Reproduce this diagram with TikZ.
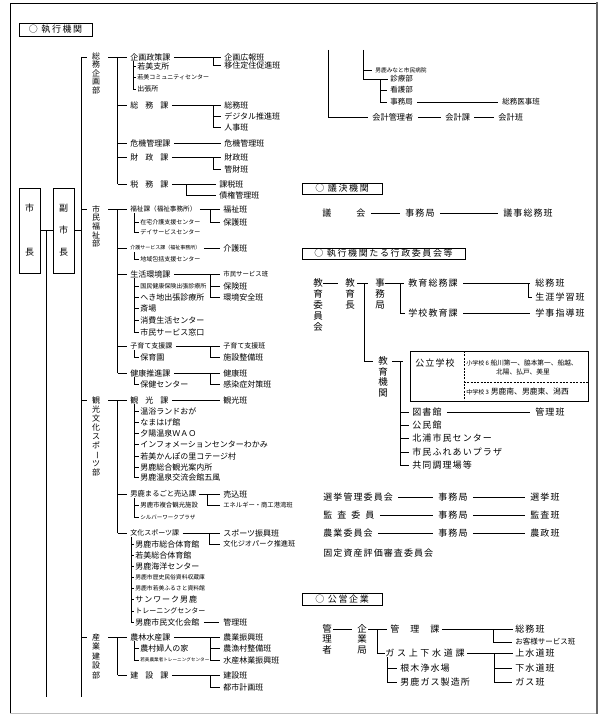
\documentclass[tikz,border=0pt]{standalone}
\usepackage{graphicx}
\usepackage{fontspec}
\setmainfont{Noto Sans CJK JP}
\newfontfamily\jpH[LetterSpace=18]{Noto Sans CJK JP}
\newfontfamily\jpW[LetterSpace=30]{Noto Sans CJK JP}
\newfontfamily\jpR[LetterSpace=12]{Noto Sans CJK JP}
\newcommand\fz[2]{\fontsize{#1}{#2}\selectfont}
\newcommand\vln[3]{\draw (#2.west -| #1,0) -- (#3.west -| #1,0);}
\newcommand\stb[2]{\draw (#2.west -| #1,0) -- ([xshift=-3pt]#2.west);}
\newcommand\subst[2]{\draw (#2.west -| #1,0) -- ([xshift=-1.3pt]#2.west);}
\newcommand\hln[2]{\draw ([xshift=3pt]#1.east) -- ([xshift=-3pt]#2.west);}
\newcommand\hlng[3]{\draw ([xshift=#3]#1.east) -- ([xshift=-#3]#2.west);}
\newcommand\vbar{\rotatebox[origin=c]{-90}{ー}}
\begin{document}
\begin{tikzpicture}[x=1pt,y=-1pt,line width=0.75pt,
  t/.style={anchor=west,inner sep=0pt,font=\fz{8}{9}},
  tm/.style={t,font=\fz{7}{8}},
  ts/.style={t,font=\fz{6}{7}},
  tt/.style={t,font=\fz{5}{6}},
  tr/.style={t,font=\jpR\fz{9}{10}},
  vt/.style={anchor=north,inner sep=0pt,align=center},
  hbox/.style={draw,inner sep=0pt,font=\jpH\fz{9}{10}},
  bigbox/.style={draw,inner sep=0pt,minimum width=21pt,minimum height=85pt,align=center},
]
\useasboundingbox (0,0) rectangle (600,717);
% frame
\draw (597,3) -- (10,3) -- (10,713);
\draw[line width=0.8pt,black!25] (10,713) -- (597,713);
\draw[line width=2.5pt,black!60] (597,2) -- (597,714);

% headers
\node[hbox,minimum width=73pt,minimum height=13pt] (h1) at (55.5,29.5) {○ 執行機関};
\node[hbox,minimum width=80pt,minimum height=11pt] (h2) at (342,188.5) {○ 議決機関};
\node[hbox,minimum width=163pt,minimum height=11pt] (h3) at (383.5,253.5) {○ 執行機関たる行政委員会等};
\node[hbox,minimum width=80pt,minimum height=12pt] (h4) at (342,599) {○ 公営企業};

% mayor boxes
\node[bigbox,font=\fz{9}{22}] (mayor) at (29.5,230.5) {市\\[22pt]長};
\node[bigbox,font=\fz{9}{22}] (vmayor) at (63.5,230.5) {副\\市\\長};
\draw (mayor.east) -- (vmayor.west);
\draw (mayor.east -| 46,0) -- (46,697);
\draw (vmayor.east) -- (vmayor.east -| 81,0);
\draw (81,57) -- (81,697);

% ===== 総務企画部
\node[vt,font=\fz{8}{8.5}] (bu1) at (96,52) {総\\務\\企\\画\\部};
\node[t] (kikaku) at (130,57) {企画政策課};
\node[t] (kouhou) at (224,57) {企画広報班};
\node[t] (ijuu) at (224,65.5) {移住定住促進班};
\node[t] (wshisho) at (137,66) {若美支所};
\node[ts] (wcom) at (137,77.5) {若美コミュニティセンター};
\node[tm] (shutcho) at (137,89) {出張所};
\node[t] (soumu) at (130,105) {総\hspace{7pt}務\hspace{7pt}課};
\node[t] (soumuh) at (224,105) {総務班};
\node[t] (digital) at (224,116) {デジタル推進班};
\node[t] (jinji) at (224,127) {人事班};
\node[t] (kiki) at (130,143) {危機管理課};
\node[t] (kikih) at (224,143) {危機管理班};
\node[t] (zaisei) at (130,157) {財\hspace{7pt}政\hspace{7pt}課};
\node[t] (zaiseih) at (224,157) {財政班};
\node[t] (kanzai) at (224,169) {管財班};
\node[t] (zeimu) at (130,184) {税\hspace{7pt}務\hspace{7pt}課};
\node[t] (kazei) at (219,184) {課税班};
\node[t] (saiken) at (219,195) {債権管理班};

\draw (kikaku.west -| 81,0) -- (kikaku.west -| 87,0);
\draw (kikaku.west -| 108,0) -- ([xshift=-3.5pt]kikaku.west);
\vln{117.5}{kikaku}{zeimu}
\stb{117.5}{soumu} \stb{117.5}{kiki} \stb{117.5}{zaisei} \stb{117.5}{zeimu}
\hln{kikaku}{kouhou} \vln{213}{kouhou}{ijuu} \stb{213}{ijuu}
\draw (kikaku.west -| 133,0) ++(0,4) -- (shutcho.west -| 133,0);
\subst{133}{wshisho} \subst{133}{wcom} \subst{133}{shutcho}
\hln{soumu}{soumuh} \vln{213}{soumuh}{jinji} \stb{213}{digital} \stb{213}{jinji}
\hln{kiki}{kikih}
\hln{zaisei}{zaiseih} \vln{213}{zaiseih}{kanzai} \stb{213}{kanzai}
\hln{zeimu}{kazei} \vln{186}{kazei}{saiken} \stb{186}{saiken}

% ===== 市民福祉部
\node[vt,font=\fz{8}{8.7}] (bu2) at (96,205) {市\\民\\福\\祉\\部};
\node[t,font=\fz{6.6}{7}] (fukushi) at (130,209) {福祉課（福祉事務所）};
\node[t] (fukushih) at (223,209) {福祉班};
\node[t] (hogo) at (223,222) {保護班};
\node[ts] (zaitaku) at (140,222) {在宅介護支援センター};
\node[ts] (day) at (140,232) {デイサービスセンター};
\node[tt] (kaigo) at (130,248) {介護サービス課（福祉事務所）};
\node[t] (kaigoh) at (223,248) {介護班};
\node[ts] (chiiki) at (140,259) {地域包括支援センター};
\node[t] (seikatsu) at (130,274) {生活環境課};
\node[t,font=\fz{6.4}{7}] (shiminh) at (223,274) {市民サービス班};
\node[t] (hoken) at (223,286) {保険班};
\node[t] (kankyo) at (223,297) {環境安全班};
\node[ts] (kokuho) at (140,286) {国民健康保険出張診療所};
\node[t] (hekichi) at (140,297) {へき地出張診療所};
\node[t] (saijo) at (140,308) {斎場};
\node[t] (shohi) at (140,320) {消費生活センター};
\node[t] (madoguchi) at (140,332) {市民サービス窓口};
\node[tm] (kosodate) at (130,346) {子育て支援課};
\node[tm] (kosodateh) at (223,346) {子育て支援班};
\node[t] (shisetsu) at (223,357) {施設整備班};
\node[t] (hoikuen) at (140,357) {保育園};
\node[t] (kenkou) at (130,373) {健康推進課};
\node[t] (kenkouh) at (223,373) {健康班};
\node[t] (kansen) at (223,384) {感染症対策班};
\node[t] (hokenc) at (140,384) {保健センター};

\draw (fukushi.west -| 81,0) -- (fukushi.west -| 87,0);
\draw (fukushi.west -| 108,0) -- ([xshift=-3.5pt]fukushi.west);
\vln{117.5}{fukushi}{kenkou}
\stb{117.5}{kaigo} \stb{117.5}{seikatsu} \stb{117.5}{kosodate} \stb{117.5}{kenkou}
\hln{fukushi}{fukushih} \vln{210}{fukushih}{hogo} \stb{210}{hogo}
\draw (fukushi.west -| 134,0) ++(0,4) -- (day.west -| 134,0);
\subst{134}{zaitaku} \subst{134}{day}
\hln{kaigo}{kaigoh}
\draw (kaigo.west -| 134,0) ++(0,4) -- (chiiki.west -| 134,0); \subst{134}{chiiki}
\hln{seikatsu}{shiminh} \vln{210}{shiminh}{kankyo} \stb{210}{hoken} \stb{210}{kankyo}
\draw (seikatsu.west -| 134,0) ++(0,4) -- (madoguchi.west -| 134,0);
\subst{134}{kokuho} \subst{134}{hekichi} \subst{134}{saijo} \subst{134}{shohi} \subst{134}{madoguchi}
\hln{kosodate}{kosodateh} \vln{210}{kosodateh}{shisetsu} \stb{210}{shisetsu}
\draw (kosodate.west -| 134,0) ++(0,4) -- (hoikuen.west -| 134,0); \subst{134}{hoikuen}
\hln{kenkou}{kenkouh} \vln{210}{kenkouh}{kansen} \stb{210}{kansen}
\draw (kenkou.west -| 134,0) ++(0,4) -- (hokenc.west -| 134,0); \subst{134}{hokenc}

% ===== 観光文化スポーツ部
\node[vt,font=\fz{8}{9}] (bu3) at (96,396) {観\\光\\文\\化\\ス\\ポ\\\vbar\\ツ\\部};
\node[t] (kankou) at (130,400) {観\hspace{7pt}光\hspace{7pt}課};
\node[t] (kankouh) at (223,400) {観光班};
\node[t] (onyoku) at (140,411) {温浴ランドおが};
\node[t] (namahage) at (140,422) {なまはげ館};
\node[t] (wao) at (140,433) {夕陽温泉ＷＡＯ};
\node[t] (info) at (140,444) {インフォメーションセンターわかみ};
\node[t] (kanpo) at (140,456) {若美かんぽの里コテージ村};
\node[t] (annai) at (140,467) {男鹿総合観光案内所};
\node[t] (gofu) at (140,477) {男鹿温泉交流会館五風};
\node[t,font=\fz{7.3}{8}] (marugoto) at (130,494) {男鹿まるごと売込課};
\node[t] (urikomi) at (223,494) {売込班};
\node[t,font=\fz{6.3}{7}] (energy) at (223,505) {エネルギー・商工港湾班};
\node[t,font=\fz{6.4}{7}] (fukugo) at (140,505) {男鹿市複合観光施設};
\node[t,font=\fz{5.5}{6}] (silver) at (140,517) {シルバーワークプラザ};
\node[t,font=\fz{7}{8}] (bunka) at (130,533) {文化スポーツ課};
\node[t] (sports) at (223,533) {スポーツ振興班};
\node[t,font=\fz{7.2}{8}] (geo) at (223,544) {文化ジオパーク推進班};
\node[t] (sougou) at (135,544) {男鹿市総合体育館};
\node[t] (wsougou) at (135,555) {若美総合体育館};
\node[t] (kaiyou) at (135,566) {男鹿海洋センター};
\node[t,font=\fz{5.8}{6}] (rekishi) at (135,577) {男鹿市歴史民俗資料収蔵庫};
\node[t,font=\fz{5.8}{6}] (furusato) at (135,588) {男鹿市若美ふるさと資料館};
\node[t,font=\jpR\fz{8}{9}] (sunwork) at (135,599) {サンワーク男鹿};
\node[tm] (training) at (135,611) {トレーニングセンター};
\node[t] (bunkakaikan) at (135,622) {男鹿市民文化会館};
\node[t] (kanrih) at (223,622) {管理班};

\draw (kankou.west -| 81,0) -- (kankou.west -| 87,0);
\draw (kankou.west -| 108,0) -- ([xshift=-3.5pt]kankou.west);
\vln{117.5}{kankou}{bunka}
\stb{117.5}{marugoto} \stb{117.5}{bunka}
\hln{kankou}{kankouh}
\draw (kankou.west -| 134,0) ++(0,4) -- (gofu.west -| 134,0);
\subst{134}{onyoku} \subst{134}{namahage} \subst{134}{wao} \subst{134}{info}
\subst{134}{kanpo} \subst{134}{annai} \subst{134}{gofu}
\hln{marugoto}{urikomi} \vln{207}{urikomi}{energy} \stb{207}{energy}
\draw (marugoto.west -| 134,0) ++(0,4) -- (silver.west -| 134,0);
\subst{134}{fukugo} \subst{134}{silver}
\hln{bunka}{sports} \vln{209}{sports}{geo} \stb{209}{geo}
\draw (bunka.west -| 131,0) ++(0,4) -- (bunkakaikan.west -| 131,0);
\subst{131}{sougou} \subst{131}{wsougou} \subst{131}{kaiyou} \subst{131}{rekishi}
\subst{131}{furusato} \subst{131}{sunwork} \subst{131}{training} \subst{131}{bunkakaikan}
\hlng{bunkakaikan}{kanrih}{4pt}

% ===== 産業建設部
\node[vt,font=\fz{8}{9.5}] (bu4) at (96,633) {産\\業\\建\\設\\部};
\node[t] (nourin) at (130,637) {農林水産課};
\node[t] (nougyou) at (223,637) {農業振興班};
\node[t] (gyoson) at (223,648) {農漁村整備班};
\node[t] (suisan) at (223,660) {水産林業振興班};
\node[t] (fujin) at (140,648) {農村婦人の家};
\node[t,font=\fz{4.6}{5}] (wtrain) at (140,660) {若美農業者トレーニングセンター};
\node[t] (kensetsu) at (130,675) {建\hspace{7pt}設\hspace{7pt}課};
\node[t] (kensetsuh) at (223,675) {建設班};
\node[t] (toshi) at (223,687) {都市計画班};

\draw (nourin.west -| 81,0) -- (nourin.west -| 87,0);
\draw (nourin.west -| 108,0) -- ([xshift=-3.5pt]nourin.west);
\vln{117.5}{nourin}{kensetsu} \stb{117.5}{kensetsu}
\hln{nourin}{nougyou} \vln{210}{nougyou}{suisan} \stb{210}{gyoson} \stb{210}{suisan}
\draw (nourin.west -| 134,0) ++(0,4) -- (wtrain.west -| 134,0);
\subst{134}{fujin} \subst{134}{wtrain}
\hln{kensetsu}{kensetsuh} \vln{210}{kensetsuh}{toshi} \stb{210}{toshi}

% ===== right column continuation
\node[t,font=\fz{5.7}{6}] (byouin) at (375,70) {男鹿みなと市民病院};
\node[t,font=\fz{7.5}{8}] (shinryo) at (390,79) {診療部};
\node[t,font=\fz{7.5}{8}] (kango) at (390,90) {看護部};
\node[t,font=\fz{7.5}{8}] (jimu) at (390,102) {事務局};
\node[t,font=\fz{7.5}{8}] (iji) at (502,102) {総務医事班};
\node[t,font=\fz{8.2}{9}] (kaikeikanri) at (372,117) {会計管理者};
\node[t,font=\fz{8.2}{9}] (kaikeika) at (445,117) {会計課};
\node[t,font=\fz{8.2}{9}] (kaikeihan) at (498,117) {会計班};
\draw (328,50) -- (kaikeikanri.west -| 328,0) -- ([xshift=-4pt]kaikeikanri.west);
\draw (363,50) -- (shinryo.west -| 363,0) -- ([xshift=-2pt]shinryo.west);
\stb{363}{byouin}
\vln{380}{shinryo}{jimu} \stb{380}{kango} \stb{380}{jimu}
\hlng{jimu}{iji}{4pt} \hlng{kaikeikanri}{kaikeika}{4pt} \hlng{kaikeika}{kaikeihan}{4pt}

% ===== 議決機関
\node[tr] (gikai) at (322,213) {議\hspace{25pt}会};
\node[tr] (gjimu) at (405,213) {事務局};
\node[tr] (giji) at (503,213) {議事総務班};
\hlng{gikai}{gjimu}{5pt} \hlng{gjimu}{giji}{5pt}

% ===== 行政委員会
\node[vt,font=\fz{9.5}{11}] (kyoui) at (318,278) {教\\育\\委\\員\\会};
\node[vt,font=\fz{9.5}{11}] (kyoiku) at (350,278) {教\\育\\長};
\node[vt,font=\fz{9.5}{11}] (kjimu) at (380,278) {事\\務\\局};
\node[tr] (ksoumu) at (408,283) {教育総務課};
\node[tr] (ksoumuh) at (535,283) {総務班};
\node[tr] (shougai) at (535,297) {生涯学習班};
\node[tr] (gakkou) at (408,313) {学校教育課};
\node[tr] (gakuji) at (535,313) {学事指導班};
\draw (ksoumu.west -| 323,0) -- (ksoumu.west -| 338,0);
\draw (ksoumu.west -| 357,0) -- (ksoumu.west -| 368,0);
\draw (ksoumu.west -| 364,0) -- (364,361) -- (373,361);
\draw (ksoumu.west -| 385,0) -- ([xshift=-4pt]ksoumu.west);
\vln{400}{ksoumu}{gakkou} \stb{400}{gakkou}
\hlng{ksoumu}{ksoumuh}{5pt} \vln{528}{ksoumuh}{shougai} \stb{528}{shougai}
\hlng{gakkou}{gakuji}{5pt}

\node[vt,font=\fz{9.5}{10.7}] (kikan) at (383,356) {教\\育\\機\\関};
\node[draw,inner sep=0pt,minimum width=178pt,minimum height=50pt,anchor=north west] (kouritsu) at (410,351) {};
\node[tr] (kouritsut) at (415,363) {公立学校};
\draw[line width=0.65pt,dash pattern=on 2pt off 1.3pt] (kouritsu.north west) ++(54,0) -- ++(0,50);
\draw[line width=0.65pt,dash pattern=on 2pt off 1.3pt] (kouritsu.north west) ++(54,31) -- ++(124,0);
\node[t,font=\fz{6.7}{7}] (sho1) at (466,363) {{\fz{6}{7}小学校 6} 船川第一、脇本第一、船越、};
\node[anchor=center,inner sep=0pt,font=\fz{6.7}{7}] (sho2) at (523,372) {北陽、払戸、美里};
\node[t,font=\fz{7.8}{8}] (chu) at (466,392) {{\fz{6}{7}中学校 3} 男鹿南、男鹿東、潟西};
\node[tr] (tosho) at (412,412) {図書館};
\node[tr] (kanrih2) at (535,412) {管理班};
\node[tr] (koumin) at (412,425) {公民館};
\node[tr] (kitaura) at (412,438) {北浦市民センター};
\node[tr] (fureai) at (412,452) {市民ふれあいプラザ};
\node[tr] (kyoudou) at (412,465) {共同調理場等};
\draw (kikan.north) ++(9,5) -- ++(11,0);
\draw (kikan.north) ++(17,5) -- (kyoudou.west -| 400,0);
\stb{400}{tosho} \stb{400}{koumin} \stb{400}{kitaura} \stb{400}{fureai} \stb{400}{kyoudou}
\hlng{tosho}{kanrih2}{5pt}

\node[tr] (senkyo) at (323,497) {選挙管理委員会};
\node[tr] (sjimu) at (438,497) {事務局};
\node[tr] (senkyoh) at (530,497) {選挙班};
\node[tr] (kansa) at (323,515) {監\hspace{5pt}査\hspace{5pt}委\hspace{5pt}員};
\node[tr] (kjimu2) at (438,515) {事務局};
\node[tr] (kansah) at (530,515) {監査班};
\node[tr] (nougyoui) at (323,533) {農業委員会};
\node[tr] (njimu) at (438,533) {事務局};
\node[tr] (nousei) at (530,533) {農政班};
\node[tr] (kotei) at (323,553) {固定資産評価審査委員会};
\hlng{senkyo}{sjimu}{5pt} \hlng{sjimu}{senkyoh}{5pt}
\hlng{kansa}{kjimu2}{5pt} \hlng{kjimu2}{kansah}{5pt}
\hlng{nougyoui}{njimu}{5pt} \hlng{njimu}{nousei}{5pt}

% ===== 公営企業
\node[vt,font=\fz{9.5}{10.5}] (kanrisha) at (327,624) {管\\理\\者};
\node[vt,font=\fz{9.5}{10.5}] (kigyou) at (362,624) {企\\業\\局};
\node[tr] (kanrika) at (390,629) {管\hspace{11pt}理\hspace{11pt}課};
\node[tr] (ksoumu2) at (515,629) {総務班};
\node[t,font=\fz{7.5}{8}] (okyaku) at (515,642) {お客様サービス班};
\node[t,font=\jpW\fz{9}{10}] (gasu) at (385,653) {ガス上下水道課};
\node[tr] (jousui) at (515,653) {上水道班};
\node[tr] (gesui) at (515,668) {下水道班};
\node[tr] (gasuh) at (515,682) {ガス班};
\node[tr] (negi) at (400,668) {根木浄水場};
\node[tr] (gasusei) at (400,682) {男鹿ガス製造所};
\draw (kanrika.west -| 333,0) -- (kanrika.west -| 352,0);
\draw (kanrika.west -| 368,0) -- ([xshift=-3pt]kanrika.west);
\draw (kanrika.west -| 377,0) |- ([xshift=-0.5pt]gasu.west);
\hlng{kanrika}{ksoumu2}{2pt} \vln{493}{ksoumu2}{okyaku} \stb{493}{okyaku}
\hlng{gasu}{jousui}{2pt} \vln{494}{jousui}{gasuh} \stb{494}{gesui} \stb{494}{gasuh}
\draw (gasu.west -| 387,0) ++(0,4) -- (gasusei.west -| 387,0);
\stb{387}{negi} \stb{387}{gasusei}
\end{tikzpicture}
\end{document}
